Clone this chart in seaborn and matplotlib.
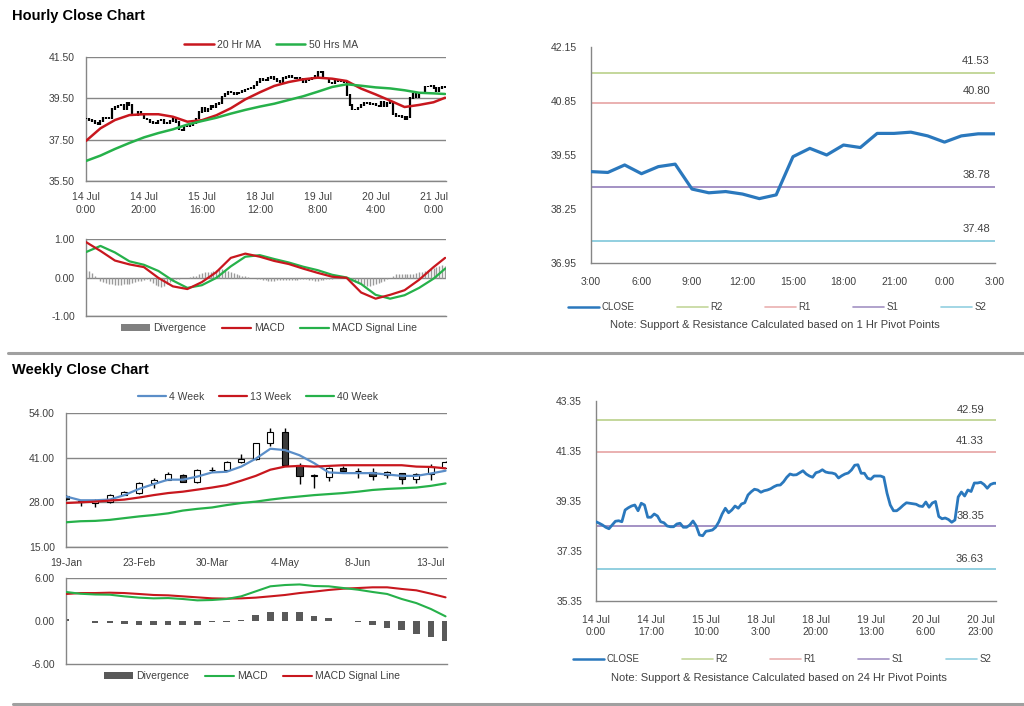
import numpy as np
import pandas as pd
import matplotlib
matplotlib.use('Agg')
import matplotlib.pyplot as plt
from matplotlib.lines import Line2D
from matplotlib.patches import Patch
import seaborn as sns

sns.set_style("white")
plt.rcParams['font.family'] = ['Liberation Sans', 'DejaVu Sans']

# ---------------- hourly data (125 hourly closes, 14 Jul 0:00 -> 21 Jul 4:00)
hourly_close = [
    38.52, 38.46, 38.39, 38.30, 38.24, 38.39, 38.54, 38.56, 38.52, 38.99,
    39.08, 39.15, 39.19, 38.96, 39.26, 39.19, 38.70, 38.70, 38.83, 38.75,
    38.52, 38.48, 38.35, 38.32, 38.32, 38.43, 38.46, 38.30, 38.30, 38.39,
    38.55, 38.35, 37.99, 37.96, 38.14, 38.16, 38.19, 38.30, 38.52, 38.83,
    39.06, 38.88, 38.99, 39.15, 39.06, 39.23, 39.28, 39.59, 39.72, 39.82,
    39.79, 39.70, 39.76, 39.79, 39.84, 39.92, 39.98, 39.99, 40.12, 40.30,
    40.43, 40.39, 40.40, 40.48, 40.56, 40.43, 40.35, 40.30, 40.48, 40.52,
    40.60, 40.51, 40.48, 40.47, 40.43, 40.27, 40.36, 40.43, 40.47, 40.59,
    40.78, 40.80, 40.46, 40.46, 40.26, 40.22, 40.35, 40.35, 40.35, 40.30,
    39.66, 39.19, 38.96, 38.96, 39.06, 39.18, 39.28, 39.26, 39.24, 39.22,
    39.15, 39.13, 39.31, 39.10, 39.27, 39.33, 38.73, 38.64, 38.67, 38.61,
    38.50, 38.59, 39.51, 39.71, 39.55, 39.79, 39.73, 40.07, 40.07, 40.10,
    40.01, 39.86, 40.01, 40.06, 40.06,
]

# moving averages / MACD read every 5 hours
ma_hours = [0, 5, 10, 15, 20, 25, 30, 35, 40, 45, 50, 55, 60, 65, 70, 75, 80,
            85, 90, 95, 100, 105, 110, 115, 120, 124]
ma20 = [37.44, 38.05, 38.45, 38.69, 38.73, 38.73, 38.61, 38.37, 38.44, 38.68,
        39.02, 39.45, 39.79, 40.10, 40.29, 40.42, 40.50, 40.45, 40.34, 39.97,
        39.69, 39.39, 39.08, 39.18, 39.31, 39.53]
ma50 = [36.47, 36.73, 37.05, 37.34, 37.61, 37.82, 38.00, 38.23, 38.40, 38.56,
        38.76, 38.94, 39.10, 39.24, 39.42, 39.60, 39.82, 40.05, 40.18, 40.11,
        40.03, 39.98, 39.89, 39.77, 39.74, 39.71]
h_macd = [0.92, 0.69, 0.44, 0.34, 0.27, -0.01, -0.23, -0.30, -0.12, 0.14,
          0.51, 0.62, 0.54, 0.43, 0.35, 0.23, 0.12, 0.02, -0.01, -0.39,
          -0.55, -0.45, -0.33, -0.06, 0.27, 0.51]
h_signal = [0.66, 0.82, 0.65, 0.42, 0.33, 0.17, -0.08, -0.27, -0.20, -0.01,
            0.29, 0.54, 0.58, 0.48, 0.39, 0.28, 0.19, 0.07, 0.00, -0.17,
            -0.45, -0.55, -0.46, -0.27, -0.03, 0.23]
h_div = [
    0.20, 0.18, 0.12, 0.05, 0.00,
    -0.08, -0.12, -0.15, -0.17, -0.18,
    -0.20, -0.20, -0.19, -0.18, -0.18, -0.17, -0.15, -0.12,
    -0.10, -0.08, -0.06, -0.05,
    -0.10, -0.15, -0.20, -0.22, -0.25, -0.22, -0.18,
    -0.12, -0.08, -0.05, -0.03, -0.02,
    0.00, 0.00, 0.02, 0.03, 0.05,
    0.10, 0.12, 0.14, 0.15, 0.15, 0.18, 0.20,
    0.22, 0.22, 0.20, 0.18, 0.15, 0.12, 0.10,
    0.07, 0.05, 0.03, 0.02, 0.00, -0.02,
    -0.04, -0.05, -0.06, -0.07, -0.08, -0.08, -0.08, -0.07, -0.07, -0.06,
    -0.06, -0.06, -0.07, -0.07, -0.06, -0.05, -0.05,
    -0.05, -0.06, -0.07, -0.08, -0.08, -0.07, -0.06, -0.05, -0.04, -0.03,
    -0.02, -0.02, -0.01,
    0.00, -0.02, -0.05, -0.08, -0.12, -0.15,
    -0.18, -0.20, -0.22, -0.22, -0.20, -0.18, -0.15, -0.12, -0.08, -0.04,
    0.00, 0.05, 0.08, 0.10, 0.10, 0.10, 0.08, 0.08,
    0.10, 0.12, 0.15, 0.15, 0.18, 0.20, 0.22, 0.25, 0.28, 0.30, 0.32, 0.30,
]
hourly_ticks = [0, 20, 40, 60, 80, 100, 120]
hourly_labels = ['14 Jul\n0:00', '14 Jul\n20:00', '15 Jul\n16:00', '18 Jul\n12:00',
                 '19 Jul\n8:00', '20 Jul\n4:00', '21 Jul\n0:00']

# 1 hr pivot chart (last 25 hours)
pivot1_labels = ['3:00', '6:00', '9:00', '12:00', '15:00', '18:00', '21:00', '0:00', '3:00']
pivot1_levels = {'R2': 41.53, 'R1': 40.80, 'S1': 38.78, 'S2': 37.48}

# 24 hr pivot chart
pivot24_ticks = [0, 17, 34, 51, 68, 85, 102, 119]
pivot24_labels = ['14 Jul\n0:00', '14 Jul\n17:00', '15 Jul\n10:00', '18 Jul\n3:00',
                  '18 Jul\n20:00', '19 Jul\n13:00', '20 Jul\n6:00', '20 Jul\n23:00']
pivot24_levels = {'R2': 42.59, 'R1': 41.33, 'S1': 38.35, 'S2': 36.63}

# ---------------- weekly data (19-Jan -> 20-Jul)
w_open = [29.9, 28.2, 27.8, 28.2, 30.1, 30.7, 33.6, 34.6, 36.0, 33.8, 37.3, 37.5, 39.6, 40.5,
          45.2, 48.5, 38.9, 35.7, 35.4, 38.1, 37.2, 36.7, 35.9, 36.4, 34.9, 36.2, 38.1]
w_close = [28.9, 28.2, 28.7, 30.1, 30.9, 33.6, 34.6, 36.2, 34.0, 37.4, 37.4, 39.6, 40.5, 45.2,
           48.5, 38.8, 35.7, 35.8, 38.1, 37.1, 37.1, 35.8, 36.7, 34.9, 36.2, 38.4, 39.8]
w_high = [30.0, 28.4, 28.9, 30.3, 31.4, 34.0, 35.2, 36.9, 36.3, 37.6, 38.3, 39.9, 42.0, 45.4,
          49.7, 49.7, 39.4, 36.2, 38.3, 38.5, 38.1, 38.1, 37.0, 36.6, 36.4, 39.1, 40.0]
w_low = [28.8, 27.0, 26.6, 27.9, 30.0, 30.5, 32.3, 34.4, 33.8, 33.6, 36.7, 37.3, 39.4, 40.2,
         44.4, 38.6, 33.3, 32.3, 34.3, 37.0, 35.2, 34.6, 35.2, 33.3, 33.6, 34.6, 38.0]
ma4w = [29.7, 28.6, 28.6, 28.8, 30.1, 31.9, 33.3, 34.6, 34.6, 35.5, 36.7, 36.9, 38.4, 40.7,
        43.6, 43.2, 41.7, 39.4, 36.7, 36.5, 36.5, 36.5, 36.1, 35.7, 35.7, 36.4, 37.2]
ma13w = [27.8, 28.0, 28.2, 28.5, 28.8, 29.4, 30.1, 30.7, 31.1, 31.7, 32.3, 33.0, 34.3, 35.7,
         37.5, 38.4, 38.6, 38.4, 38.6, 38.8, 38.8, 38.8, 38.8, 38.8, 38.4, 38.3, 37.9]
ma40w = [22.2, 22.5, 22.6, 22.9, 23.4, 23.9, 24.3, 24.8, 25.6, 26.1, 26.5, 27.2, 27.8, 28.2,
         28.8, 29.3, 29.7, 30.1, 30.4, 30.7, 31.1, 31.6, 31.9, 32.1, 32.3, 32.8, 33.5]
w_macd = [4.05, 3.80, 3.70, 3.67, 3.44, 3.26, 3.16, 3.20, 3.07, 2.88, 2.93, 3.07, 3.44, 4.14,
          4.84, 5.02, 5.10, 4.88, 4.84, 4.60, 4.37, 4.05, 3.77, 3.07, 2.50, 1.67, 0.65]
w_signal = [3.77, 3.90, 3.90, 3.95, 3.90, 3.77, 3.63, 3.58, 3.44, 3.30, 3.16, 3.12, 3.16, 3.26,
            3.44, 3.63, 3.90, 4.10, 4.33, 4.51, 4.60, 4.70, 4.70, 4.47, 4.28, 3.81, 3.30]
w_div = [0.3, -0.05, -0.3, -0.3, -0.4, -0.6, -0.6, -0.5, -0.5, -0.5, -0.2, -0.2, 0.2, 0.8,
         1.3, 1.3, 1.2, 0.7, 0.4, 0.0, -0.1, -0.6, -1.0, -1.3, -1.8, -2.3, -2.8]
weekly_ticks = [0, 5, 10, 15, 20, 25]
weekly_labels = ['19-Jan', '23-Feb', '30-Mar', '4-May', '8-Jun', '13-Jul']

# ---------------- styling
GRAY = '#868686'
TXT = '#404040'
RED = '#c8171e'
GREEN = '#26b14a'
BLUE = '#2a78bd'
LEVEL_COLORS = {'R2': '#c4d79b', 'R1': '#eab0b0', 'S1': '#a392c4', 'S2': '#92cfe0'}
FS = 7.5

W, H = 1024, 706


def box(l, t, r, b):
    return [l / W, 1 - b / H, (r - l) / W, (b - t) / H]


def style(ax):
    for s in ['top', 'right']:
        ax.spines[s].set_visible(False)
    for s in ['left', 'bottom']:
        ax.spines[s].set_color(GRAY)
        ax.spines[s].set_linewidth(1.0)
    ax.tick_params(colors=GRAY, labelcolor=TXT, labelsize=FS, length=4, width=1)


fig = plt.figure(figsize=(W / 100, H / 100), dpi=100)

# ---------------- Hourly candles
ax1 = fig.add_axes(box(86, 57, 446, 181))
style(ax1)
hc = np.array(hourly_close)
hx = np.arange(len(hc))
h_open = np.r_[hc[0], hc[:-1]]
ax1.vlines(hx, np.minimum(h_open, hc) - 0.04, np.maximum(h_open, hc) + 0.04,
           color='black', lw=1.6, zorder=3)
sns.lineplot(x=ma_hours, y=ma20, ax=ax1, color=RED, lw=1.8, zorder=4)
sns.lineplot(x=ma_hours, y=ma50, ax=ax1, color=GREEN, lw=1.8, zorder=4)
ax1.set_ylim(35.5, 41.5)
ax1.set_yticks([35.5, 37.5, 39.5, 41.5])
ax1.set_yticklabels([f'{v:.2f}' for v in [35.5, 37.5, 39.5, 41.5]])
ax1.set_xlim(0, 124.3)
ax1.set_xticks(hourly_ticks)
ax1.set_xticklabels(hourly_labels, linespacing=1.3)
ax1.tick_params(axis='y', length=0, pad=8)
ax1.tick_params(axis='x', pad=4)
ax1.yaxis.grid(True, color=GRAY, lw=1)
ax1.set_axisbelow(True)
ax1.set_xlabel('')
ax1.set_ylabel('')
fig.legend(handles=[Line2D([], [], color=RED, lw=1.8, label='20 Hr MA'),
                    Line2D([], [], color=GREEN, lw=1.8, label='50 Hrs MA')],
           loc='center', bbox_to_anchor=(271 / W, 1 - 45 / H), ncol=2, frameon=False,
           fontsize=FS, handlelength=2.8, columnspacing=1.5, handletextpad=0.3,
           labelcolor=TXT)

# ---------------- Hourly MACD
ax2 = fig.add_axes(box(86, 239, 446, 316))
style(ax2)
ax2.vlines(hx, 0, h_div, color='#9a9a9a', lw=1.0, zorder=2)
sns.lineplot(x=ma_hours, y=h_macd, ax=ax2, color=RED, lw=1.6, zorder=4)
sns.lineplot(x=ma_hours, y=h_signal, ax=ax2, color=GREEN, lw=1.6, zorder=3)
ax2.set_ylim(-1, 1)
ax2.set_yticks([-1, 0, 1])
ax2.set_yticklabels(['-1.00', '0.00', '1.00'])
ax2.set_xlim(0, 124.3)
ax2.set_xticks([])
ax2.tick_params(axis='y', length=0, pad=8)
ax2.yaxis.grid(True, color=GRAY, lw=1)
ax2.set_axisbelow(True)
fig.legend(handles=[Patch(facecolor='#808080', edgecolor='none', label='Divergence'),
                    Line2D([], [], color=RED, lw=1.6, label='MACD'),
                    Line2D([], [], color=GREEN, lw=1.6, label='MACD Signal Line')],
           loc='center', bbox_to_anchor=(269 / W, 1 - 328 / H), ncol=3, frameon=False,
           fontsize=FS, handlelength=2.8, handleheight=0.6, columnspacing=1.5,
           handletextpad=0.3, labelcolor=TXT)


# ---------------- pivot charts
def pivot_chart(ax, x, y, levels, lw, lab_dx, lab_dy):
    style(ax)
    for name, v in levels.items():
        ax.axhline(v, color=LEVEL_COLORS[name], lw=1.4, zorder=2)
        ax.annotate(f'{v:.2f}', xy=(1, v), xycoords=('axes fraction', 'data'),
                    xytext=(lab_dx, lab_dy), textcoords='offset pixels',
                    ha='right', va='center', fontsize=8, color=TXT)
    sns.lineplot(x=x, y=y, ax=ax, color=BLUE, lw=lw, zorder=4)
    ax.set_xlabel('')
    ax.set_ylabel('')


def pivot_legend(cx, cy):
    handles = [Line2D([], [], color=BLUE, lw=1.8, label='CLOSE')]
    handles += [Line2D([], [], color=LEVEL_COLORS[k], lw=1.2, label=k)
                for k in ['R2', 'R1', 'S1', 'S2']]
    fig.legend(handles=handles, loc='center', bbox_to_anchor=(cx / W, 1 - cy / H), ncol=5,
               frameon=False, fontsize=7, handlelength=3.2, columnspacing=4.4,
               handletextpad=0.2, labelcolor=TXT)


ax3 = fig.add_axes(box(591, 47, 995, 263))
last25 = hourly_close[-25:]
pivot_chart(ax3, np.arange(len(last25)), last25, pivot1_levels, 2.3, -5, 12)
ax3.set_ylim(36.95, 42.15)
yt = [36.95, 38.25, 39.55, 40.85, 42.15]
ax3.set_yticks(yt)
ax3.set_yticklabels([f'{v:.2f}' for v in yt])
ax3.set_xlim(0, 24)
ax3.set_xticks(np.arange(0, 25, 3))
ax3.set_xticklabels(pivot1_labels)
ax3.tick_params(axis='x', pad=6)
ax3.tick_params(axis='y', pad=6)
pivot_legend(777, 307)
fig.text(775 / W, 1 - 325 / H, 'Note: Support & Resistance Calculated based on 1 Hr Pivot Points',
         ha='center', va='center', fontsize=8, color=TXT)

ax6 = fig.add_axes(box(596, 401, 996, 601))
pivot_chart(ax6, hx, hourly_close, pivot24_levels, 2.0, -12, 10)
ax6.set_ylim(35.35, 43.35)
yt = [35.35, 37.35, 39.35, 41.35, 43.35]
ax6.set_yticks(yt)
ax6.set_yticklabels([f'{v:.2f}' for v in yt])
ax6.set_xlim(0, 123.7)
ax6.set_xticks(pivot24_ticks)
ax6.set_xticklabels(pivot24_labels, linespacing=1.3)
ax6.tick_params(axis='x', pad=6)
ax6.tick_params(axis='y', pad=6)
pivot_legend(782, 659)
fig.text(779 / W, 1 - 678 / H, 'Note: Support & Resistance Calculated based on 24 Hr Pivot Points',
         ha='center', va='center', fontsize=8, color=TXT)

# ---------------- Weekly candles
ax4 = fig.add_axes(box(66, 413, 447, 547))
style(ax4)
wx = np.arange(len(w_close))
wo, wc = np.array(w_open), np.array(w_close)
ax4.vlines(wx, w_low, w_high, color='black', lw=1.0, zorder=3)
body_lo = np.minimum(wo, wc)
body_h = np.maximum(np.abs(wc - wo), 0.15)
face = ['white' if c >= o else '#3a3a3a' for o, c in zip(wo, wc)]
ax4.bar(wx, body_h, bottom=body_lo, width=0.42, color=face, edgecolor='black',
        linewidth=0.8, zorder=4)
sns.lineplot(x=wx, y=ma4w, ax=ax4, color='#5b8ec8', lw=1.6, zorder=5)
sns.lineplot(x=wx, y=ma13w, ax=ax4, color=RED, lw=1.6, zorder=5)
sns.lineplot(x=wx, y=ma40w, ax=ax4, color=GREEN, lw=1.6, zorder=5)
ax4.set_ylim(15, 54)
ax4.set_yticks([15, 28, 41, 54])
ax4.set_yticklabels([f'{v:.2f}' for v in [15, 28, 41, 54]])
ax4.set_xlim(0, 26.1)
ax4.set_xticks(weekly_ticks)
ax4.set_xticklabels(weekly_labels)
ax4.tick_params(axis='y', length=0, pad=8)
ax4.tick_params(axis='x', pad=4)
ax4.yaxis.grid(True, color=GRAY, lw=1)
ax4.set_axisbelow(True)
ax4.set_xlabel('')
ax4.set_ylabel('')
fig.legend(handles=[Line2D([], [], color='#5b8ec8', lw=1.6, label='4 Week'),
                    Line2D([], [], color=RED, lw=1.6, label='13 Week'),
                    Line2D([], [], color=GREEN, lw=1.6, label='40 Week')],
           loc='center', bbox_to_anchor=(258 / W, 1 - 397 / H), ncol=3, frameon=False,
           fontsize=FS, handlelength=2.7, columnspacing=1.4, handletextpad=0.3,
           labelcolor=TXT)

# ---------------- Weekly MACD
ax5 = fig.add_axes(box(66, 578, 447, 664))
style(ax5)
ax5.bar(wx, w_div, width=0.45, color='#595959', edgecolor='none', linewidth=0, zorder=2)
sns.lineplot(x=wx, y=w_macd, ax=ax5, color=GREEN, lw=1.5, zorder=4)
sns.lineplot(x=wx, y=w_signal, ax=ax5, color=RED, lw=1.5, zorder=3)
ax5.axhline(6, color=GRAY, lw=1)
ax5.set_ylim(-6, 6)
ax5.set_yticks([-6, 0, 6])
ax5.set_yticklabels(['-6.00', '0.00', '6.00'])
ax5.set_xlim(0, 26.1)
ax5.set_xticks([])
ax5.tick_params(axis='y', length=0, pad=8)
fig.legend(handles=[Patch(facecolor='#595959', edgecolor='none', label='Divergence'),
                    Line2D([], [], color=GREEN, lw=1.5, label='MACD'),
                    Line2D([], [], color=RED, lw=1.5, label='MACD Signal Line')],
           loc='center', bbox_to_anchor=(252 / W, 1 - 676 / H), ncol=3, frameon=False,
           fontsize=FS, handlelength=2.8, handleheight=0.6, columnspacing=1.5,
           handletextpad=0.3, labelcolor=TXT)

# ---------------- titles and separators
fig.text(12 / W, 1 - 16 / H, 'Hourly Close Chart', fontsize=10.5, weight='bold',
         va='center', color='black')
fig.text(12 / W, 1 - 370 / H, 'Weekly Close Chart', fontsize=10.5, weight='bold',
         va='center', color='black')
fig.add_artist(Line2D([8 / W, 1], [1 - 353 / H] * 2, color='#a0a0a0', lw=2.2,
                      transform=fig.transFigure))
fig.add_artist(Line2D([13 / W, 1], [1 - 704 / H] * 2, color='#a0a0a0', lw=2.2,
                      transform=fig.transFigure))

fig.savefig('out.png', dpi=100)
